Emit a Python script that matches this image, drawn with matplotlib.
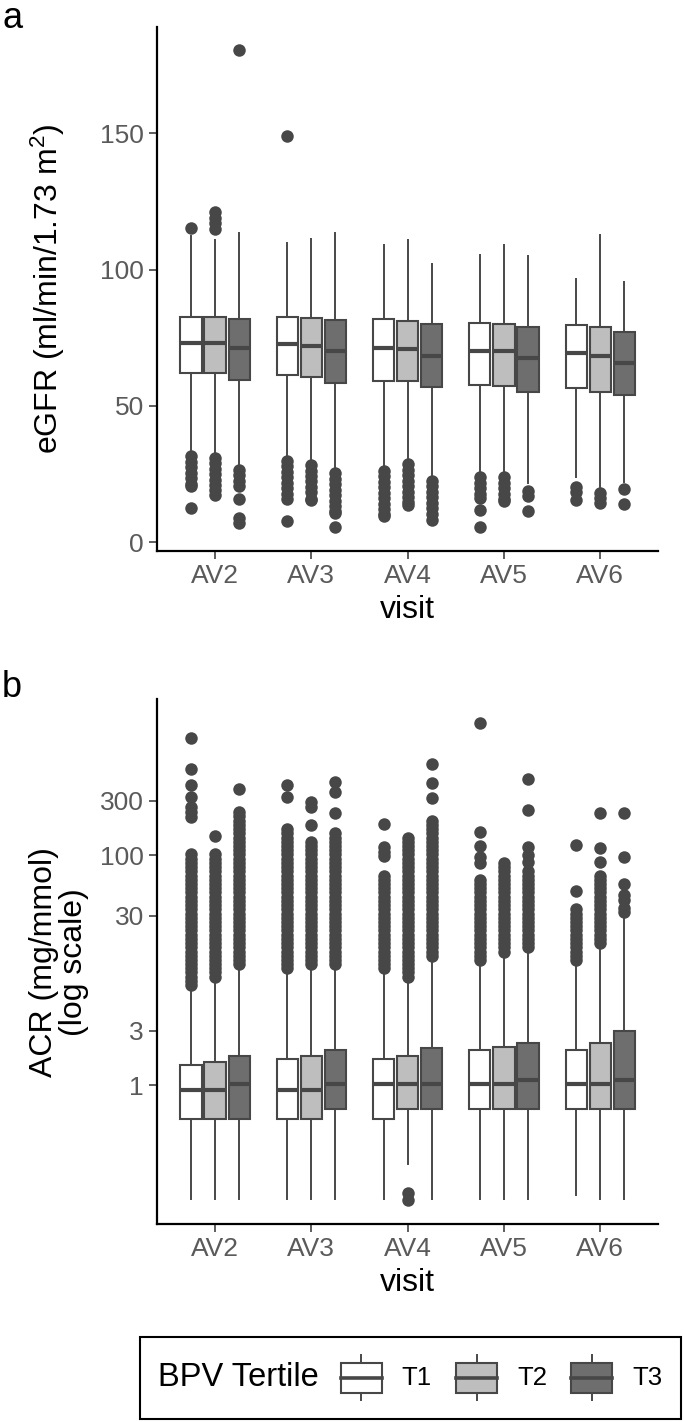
import matplotlib
matplotlib.use("Agg")
import matplotlib.pyplot as plt
from matplotlib.patches import Rectangle
from matplotlib.lines import Line2D
from matplotlib.ticker import NullLocator
from matplotlib.offsetbox import AnchoredOffsetbox, DrawingArea, HPacker, TextArea

plt.rcParams['font.family'] = ['Liberation Sans', 'DejaVu Sans']
plt.rcParams['mathtext.fontset'] = 'custom'
plt.rcParams['mathtext.rm'] = 'Liberation Sans'
plt.rcParams['mathtext.default'] = 'regular'

visits = ['AV2', 'AV3', 'AV4', 'AV5', 'AV6']
tertiles = ['T1', 'T2', 'T3']
fills = ['#FFFFFF', '#BEBEBE', '#6E6E6E']
edge = '#474747'

# ---- panel a: eGFR, one row per tertile, one value per visit ----
egfr_q3 = [[82.8, 82.8, 81.9, 80.6, 79.6],
           [82.8, 82.2, 81.0, 80.2, 79.0],
           [81.9, 81.6, 79.9, 79.0, 77.0]]
egfr_med = [[73.0, 72.8, 71.4, 70.0, 69.3],
            [73.0, 72.1, 70.9, 70.0, 68.2],
            [71.2, 70.3, 68.2, 67.5, 65.6]]
egfr_q1 = [[62.0, 61.4, 59.3, 57.8, 56.6],
           [62.0, 60.8, 59.2, 57.4, 55.2],
           [59.5, 58.3, 56.9, 55.2, 54.0]]
egfr_whishi = [[112.5, 109.8, 108.9, 105.3, 96.7],
               [110.9, 111.2, 110.9, 109.2, 112.8],
               [113.5, 113.4, 101.9, 105.0, 95.5]]
egfr_whislo = [[32.8, 31.0, 27.4, 24.7, 24.0],
               [32.3, 29.6, 29.8, 24.7, 20.4],
               [27.5, 26.5, 23.5, 21.6, 22.0]]
egfr_fliers = [
    [[115.1, 31.5, 29.5, 27.5, 25.5, 23.5, 21.5, 20.5, 12.5],
     [149.1, 29.8, 27.8, 25.8, 23.8, 21.8, 19.8, 17.8, 15.8, 7.8],
     [26.2, 24.2, 22.2, 20.2, 18.2, 16.2, 14.2, 12.2, 10.2, 9.5],
     [23.8, 21.8, 19.8, 17.8, 16.3, 11.9, 5.7],
     [20.4, 18.5, 15.5]],
    [[121.0, 119.0, 117.0, 115.0, 31.0, 29.0, 27.0, 25.0, 23.0, 21.0, 19.0, 17.5],
     [28.3, 26.3, 24.3, 22.3, 20.3, 18.3, 16.0, 15.6],
     [28.6, 26.6, 24.6, 22.6, 20.6, 18.6, 16.6, 14.6, 13.8],
     [23.8, 21.8, 19.8, 17.8, 15.8, 15.0],
     [18.0, 16.2, 14.4]],
    [[180.5, 26.5, 24.5, 22.5, 20.5, 15.8, 8.8, 7.2],
     [25.3, 23.3, 21.3, 19.3, 17.3, 15.3, 13.3, 11.3, 10.7, 5.7],
     [22.5, 20.5, 18.5, 16.5, 14.5, 12.5, 10.5, 8.3],
     [18.7, 17.0, 11.6],
     [19.6, 14.1]],
]

# ---- panel b: ACR (log scale) ----
acr_q3 = [[1.52, 1.70, 1.70, 2.04, 2.04],
          [1.60, 1.80, 1.80, 2.16, 2.35],
          [1.80, 2.02, 2.12, 2.35, 2.98]]
acr_med = [[0.92, 0.92, 1.02, 1.02, 1.02],
           [0.92, 0.92, 1.02, 1.02, 1.02],
           [1.02, 1.02, 1.02, 1.12, 1.12]]
acr_q1 = [[0.51, 0.51, 0.51, 0.62, 0.62],
          [0.51, 0.51, 0.62, 0.62, 0.62],
          [0.51, 0.62, 0.62, 0.62, 0.62]]
acr_whislo = [[0.103, 0.103, 0.103, 0.103, 0.112],
              [0.103, 0.103, 0.206, 0.103, 0.103],
              [0.103, 0.103, 0.103, 0.103, 0.103]]
acr_whishi = [[7.2, 9.7, 9.7, 12.0, 11.5],
              [8.5, 11.1, 8.6, 14.2, 16.1],
              [11.2, 11.1, 12.5, 15.4, 30.0]]
# observed ACR values making up the dense outlier columns
acr_ladder = [7.4, 8.1, 8.8, 9.6, 10.4, 11.3, 12.3, 13.4, 14.6, 15.9, 17.3, 18.8,
              20.5, 22.3, 24.3, 26.4, 28.7, 31.2, 34.0, 37.0, 40.3, 43.8, 47.7,
              51.9, 56.5, 61.5, 66.9, 72.8, 79.2, 86.2, 93.8, 102, 111, 121, 132,
              143, 156, 170, 185, 201, 219, 238]
# top of each dense outlier column
acr_band_top = [[108, 175, 67, 66, 36],
                [104, 136, 150, 88, 72],
                [239, 166, 217, 73, 0]]
acr_extra = [
    [[217, 240, 264, 323, 408, 561, 1050], [323, 414], [98, 108, 119, 186],
     [86, 96, 122, 160, 1416], [49, 123]],
    [[148], [184, 264, 292], [0.1, 0.115], [], [88, 115, 232]],
    [[377], [235, 357, 435], [313, 427, 621], [88, 100, 118, 248, 466],
     [32, 35, 41, 45, 56, 97, 232]],
]

offsets = [-0.25, 0.0, 0.25]

fig = plt.figure(figsize=(6.84, 14.22), dpi=100)
W, H = 684, 1422
ax_a = fig.add_axes([157.3 / W, 1 - 551 / H, 500.7 / W, 524.3 / H])
ax_b = fig.add_axes([157.3 / W, 1 - 1224.3 / H, 500.7 / W, 525 / H])


def draw_boxes(ax, q1, med, q3, lo, hi, fliers):
    for t in range(3):
        stats = []
        for v in range(len(visits)):
            stats.append(dict(q1=q1[t][v], med=med[t][v], q3=q3[t][v],
                              whislo=lo[t][v], whishi=hi[t][v], fliers=fliers[t][v]))
        pos = [v + 1 + offsets[t] for v in range(len(visits))]
        ax.bxp(stats, positions=pos, widths=0.22, patch_artist=True,
               showcaps=False, manage_ticks=False,
               boxprops=dict(facecolor=fills[t], edgecolor=edge, linewidth=1.5),
               medianprops=dict(color=edge, linewidth=3.0),
               whiskerprops=dict(color=edge, linewidth=1.4),
               flierprops=dict(marker='o', markerfacecolor=edge,
                               markeredgecolor='none', markersize=9))


draw_boxes(ax_a, egfr_q1, egfr_med, egfr_q3, egfr_whislo, egfr_whishi, egfr_fliers)

acr_fliers = []
for t in range(3):
    row = []
    for v in range(len(visits)):
        band = [x for x in acr_ladder if acr_whishi[t][v] < x <= acr_band_top[t][v]]
        row.append(band + acr_extra[t][v])
    acr_fliers.append(row)

draw_boxes(ax_b, acr_q1, acr_med, acr_q3, acr_whislo, acr_whishi, acr_fliers)

for ax in (ax_a, ax_b):
    ax.set_xlim(0.4, 5.6)
    ax.set_xticks(range(1, len(visits) + 1))
    ax.set_xticklabels(visits)
    for s in ('top', 'right'):
        ax.spines[s].set_visible(False)
    for s in ('left', 'bottom'):
        ax.spines[s].set_color('black')
        ax.spines[s].set_linewidth(1.6)
    ax.tick_params(axis='both', colors='#333333', labelcolor='#5A5A5A',
                   labelsize=19, length=5.5, width=1.1, pad=4.0)
    ax.set_xlabel('visit', fontsize=23, color='black')
    ax.xaxis.set_label_coords(0.5, -0.084)
    ax.xaxis.label.set_va('top')

ax_a.set_ylim(-3.2, 189.1)
ax_a.set_yticks([0, 50, 100, 150])
ax_a.set_ylabel('eGFR (ml/min/1.73 m$^2$)', fontsize=23, color='black')
ax_a.yaxis.set_label_coords(-0.18, 0.5)

ax_b.set_yscale('log')
ax_b.set_ylim(0.062, 2280)
ax_b.set_yticks([1, 3, 30, 100, 300])
ax_b.set_yticklabels(['1', '3', '30', '100', '300'])
ax_b.yaxis.set_minor_locator(NullLocator())
ax_b.set_ylabel('ACR (mg/mmol)\n(log scale)', fontsize=23, color='black',
                multialignment='center', linespacing=1.0)
ax_b.yaxis.set_label_coords(-0.136, 0.5)

fig.text(2 / W, 1 - 1 / H, 'a', fontsize=26, va='top')
fig.text(2 / W, 1 - 697 / H, 'b', fontsize=26, va='baseline')


# legend: title on the left, then the three box glyphs
def key_glyph(fill):
    w, h, bh = 29.5, 32.4, 21.6
    da = DrawingArea(w, h)
    y0 = (h - bh) / 2
    da.add_artist(Line2D([w / 2, w / 2], [0, h], color=edge, lw=1.4))
    da.add_artist(Rectangle((0, y0), w, bh, facecolor=fill, edgecolor=edge, lw=1.5))
    da.add_artist(Line2D([0, w], [h / 2, h / 2], color=edge, lw=2.6))
    return da


entries = []
for t in range(3):
    lab = TextArea(tertiles[t], textprops=dict(fontsize=18.5, color='black'))
    entries.append(HPacker(children=[key_glyph(fills[t]), lab], align='center', pad=0, sep=14.4))
items = HPacker(children=entries, align='center', pad=0, sep=17.5)
title = TextArea('BPV Tertile', textprops=dict(fontsize=23.5, color='black'))
content = HPacker(children=[title, items], align='center', pad=0, sep=15.5)
leg = AnchoredOffsetbox(loc='lower right', child=content, pad=0.95, borderpad=0,
                        prop=dict(size=14), frameon=True,
                        bbox_to_anchor=(681 / W, 3.5 / H), bbox_transform=fig.transFigure)
leg.patch.set_edgecolor('black')
leg.patch.set_linewidth(1.5)
fig.add_artist(leg)

fig.savefig('out.png', dpi=100)
